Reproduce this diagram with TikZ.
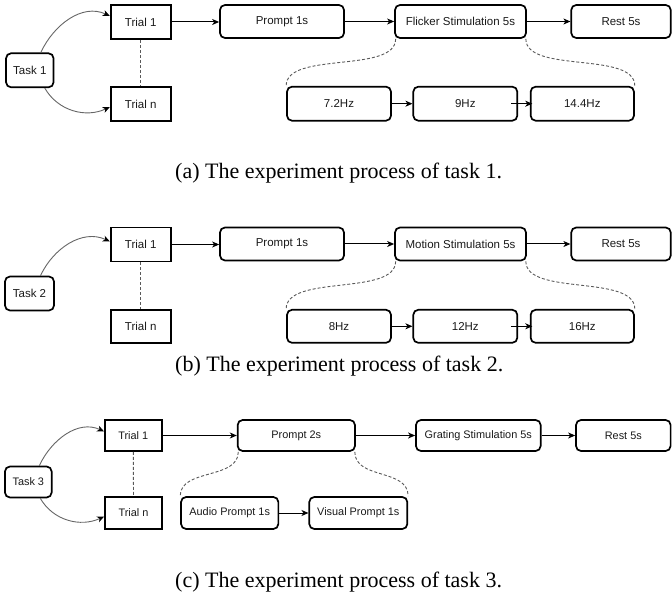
\documentclass[tikz,border=0pt]{standalone}
\usepackage{fontspec}
\setmainfont{Liberation Serif}
\newfontfamily\boxfont{Liberation Sans}
\usetikzlibrary{arrows.meta}
\begin{document}
\begin{tikzpicture}[x=1pt,y=-1pt,
  base/.style={draw=black, line width=1.7pt, inner sep=0pt, text=black!90,
    font=\boxfont\fontsize{11.5}{13}\selectfont},
  rbox/.style={base, rounded corners=5pt},
  sbox/.style={base},
  smalltxt/.style={font=\boxfont\fontsize{10.9}{12.5}\selectfont},
  arr/.style={draw=black, line width=1pt, -{Stealth[length=7pt,width=6pt,inset=2pt]}},
  tcurve/.style={draw=black!60, line width=0.9pt, -{Stealth[length=7pt,width=6pt,inset=2pt,color=black]}},
  dsh/.style={draw=black!65, line width=0.9pt, dash pattern=on 3pt off 2pt},
  captxt/.style={inner sep=0pt, anchor=base west, font=\fontsize{22}{26}\selectfont}
]
\useasboundingbox (0,0) rectangle (672,593);

% ---------------- panel (a)
\node[rbox, minimum width=47.5pt, minimum height=34pt] (task1) at (29.8,70.3) {Task 1};
\node[sbox, minimum width=60pt, minimum height=34pt] (t1a) at (140.7,22) {Trial 1};
\node[sbox, minimum width=60pt, minimum height=34pt] (tna) at (140.7,104) {Trial n};
\node[rbox, minimum width=124pt, minimum height=33pt] (pa) at (282,21.5) {Prompt 1s};
\node[rbox, minimum width=131pt, minimum height=33pt] (fa) at (460.5,21.5) {Flicker Stimulation 5s};
\node[rbox, minimum width=99.5pt, minimum height=33pt] (ra) at (621,21.5) {Rest 5s};
\node[rbox, minimum width=104pt, minimum height=34pt] (h1) at (339,103.7) {7.2Hz};
\node[rbox, minimum width=104pt, minimum height=34pt] (h2) at (465.3,103.7) {9Hz};
\node[rbox, minimum width=103.3pt, minimum height=34pt] (h3) at (582.3,103.7) {14.4Hz};

\draw[tcurve] ([xshift=11pt]task1.north) to[out=65,in=155] ([yshift=6pt]t1a.west);
\draw[tcurve] ([xshift=15pt]task1.south) to[out=-60,in=205] ([yshift=-3pt]tna.west);
\draw[dsh] (t1a.south) -- (tna.north);
\draw[arr] (t1a.east) -- (t1a.east -| pa.west);
\draw[arr] (pa) -- (fa);
\draw[arr] (fa) -- (ra);
\draw[arr] (h1) -- (h2);
\draw[arr] ([xshift=-7pt]h2.east) -- ([xshift=2.5pt]h3.west);
\draw[dsh] ([xshift=1.5pt]fa.south west) .. controls +(0,35) and +(0,-35) .. (h1.north west);
\draw[dsh] ([xshift=-1pt]fa.south east) .. controls +(0,35) and +(0,-35) .. (h3.north east);
\node[captxt] (capa) at (175,179) {(a) The experiment process of task 1.};

% ---------------- panel (b)
\node[rbox, minimum width=49pt, minimum height=34pt] (task2) at (29.5,293.5) {Task 2};
\node[sbox, minimum width=60pt, minimum height=34pt] (t1b) at (140.7,244.5) {Trial 1};
\node[sbox, minimum width=60pt, minimum height=33pt] (tnb) at (140.7,326.3) {Trial n};
\node[rbox, minimum width=124pt, minimum height=33pt] (pb) at (282,244) {Prompt 1s};
\node[rbox, minimum width=131pt, minimum height=33pt] (mb) at (460.5,244) {Motion Stimulation 5s};
\node[rbox, minimum width=99.5pt, minimum height=33pt] (rb) at (621,244) {Rest 5s};
\node[rbox, minimum width=104pt, minimum height=33pt] (g1) at (339,326.3) {8Hz};
\node[rbox, minimum width=104pt, minimum height=33pt] (g2) at (465.3,326.3) {12Hz};
\node[rbox, minimum width=103.3pt, minimum height=33pt] (g3) at (582.3,326.3) {16Hz};

\draw[tcurve] ([xshift=11pt]task2.north) to[out=65,in=155] ([yshift=3pt]t1b.west);
\draw[dsh] (t1b.south) -- (tnb.north);
\draw[arr] (t1b.east) -- (t1b.east -| pb.west);
\draw[arr] (pb) -- (mb);
\draw[arr] (mb) -- (rb);
\draw[arr] (g1) -- (g2);
\draw[arr] ([xshift=-7pt]g2.east) -- ([xshift=2.5pt]g3.west);
\draw[dsh] ([xshift=1.5pt]mb.south west) .. controls +(0,35) and +(0,-35) .. (g1.north west);
\draw[dsh] ([xshift=-1pt]mb.south east) .. controls +(0,35) and +(0,-35) .. (g3.north east);
\node[captxt] (capb) at (175,372) {(b) The experiment process of task 2.};

% ---------------- panel (c)
\node[rbox, smalltxt, minimum width=46.7pt, minimum height=31pt] (task3) at (28.3,482) {Task 3};
\node[sbox, smalltxt, minimum width=56.7pt, minimum height=31pt] (t1c) at (133.3,435.5) {Trial 1};
\node[sbox, smalltxt, minimum width=57pt, minimum height=32pt] (tnc) at (133.5,513) {Trial n};
\node[rbox, smalltxt, minimum width=117.3pt, minimum height=31pt] (pc) at (296.3,435.5) {Prompt 2s};
\node[rbox, smalltxt, minimum width=124.7pt, minimum height=31pt] (gc) at (478.3,435.5) {Grating Stimulation 5s};
\node[rbox, smalltxt, minimum width=94.6pt, minimum height=31pt] (rc) at (623.3,435.5) {Rest 5s};
\node[rbox, smalltxt, minimum width=97.3pt, minimum height=32pt] (au) at (229.7,513) {Audio Prompt 1s};
\node[rbox, smalltxt, minimum width=98pt, minimum height=32pt] (vi) at (358.3,513) {Visual Prompt 1s};

\draw[tcurve] ([xshift=11pt]task3.north) to[out=65,in=155] ([yshift=4pt]t1c.west);
\draw[tcurve] ([xshift=12pt]task3.south) to[out=-60,in=205] ([yshift=-3.5pt]tnc.west);
\draw[dsh] (t1c.south) -- (tnc.north);
\draw[arr] (t1c.east) -- (t1c.east -| pc.west);
\draw[arr] (pc) -- (gc);
\draw[arr] (gc) -- (rc);
\draw[arr] (au) -- (vi);
\draw[dsh] ([xshift=1.5pt]pc.south west) .. controls +(0,28) and +(0,-28) .. (au.north west);
\draw[dsh] ([xshift=-1pt]pc.south east) .. controls +(0,28) and +(0,-28) .. (vi.north east);
\node[captxt] (capc) at (175,587) {(c) The experiment process of task 3.};
\end{tikzpicture}
\end{document}
